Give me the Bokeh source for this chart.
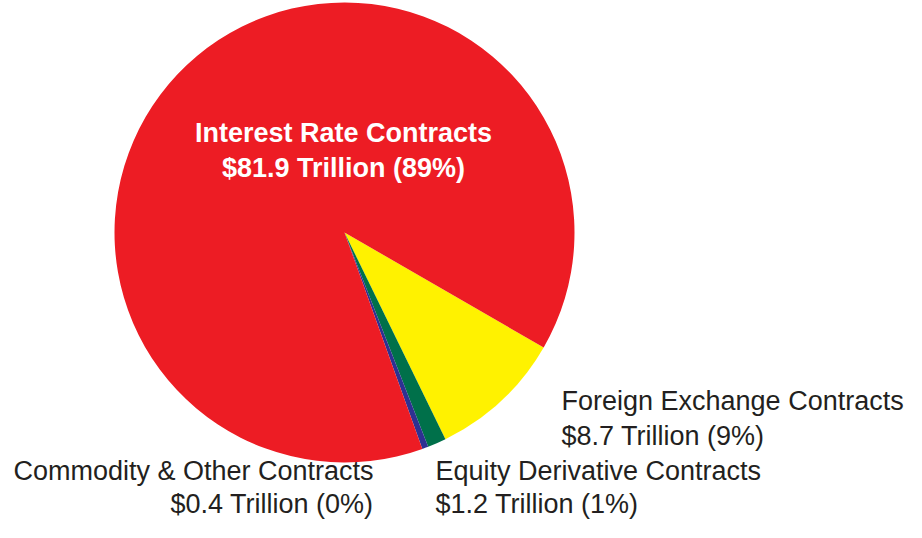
import math
from bokeh.plotting import figure
from bokeh.models import Range1d, ColumnDataSource
from bokeh.core.properties import value
from bokeh.embed import file_html
from bokeh.resources import INLINE

# ---- data ----
categories = ["Foreign Exchange Contracts", "Equity Derivative Contracts",
              "Commodity & Other Contracts", "Interest Rate Contracts"]
trillions = [8.7, 1.2, 0.4, 81.9]
colors = ["#FFF200", "#00704A", "#2E3192", "#ED1C24"]

total = sum(trillions)
pcts = [round(v / total * 100) for v in trillions]

# ---- layout ----
W, H = 906, 522
p = figure(width=W, height=H, output_backend="svg", toolbar_location=None,
           x_range=Range1d(0, W), y_range=Range1d(0, H),
           x_axis_type=None, y_axis_type=None,
           min_border=0, outline_line_color=None)
p.grid.visible = False
p.background_fill_color = "white"
p.border_fill_color = "white"

def Y(py):
    return H - py

cx, cy, r = 344, Y(232), 230
a0 = math.radians(-30)

starts, ends = [], []
cum = 0.0
for v in trillions:
    e = a0 - cum / total * 2 * math.pi
    cum += v
    s = a0 - cum / total * 2 * math.pi
    starts.append(s)
    ends.append(e)

src = ColumnDataSource(dict(start=starts, end=ends, color=colors,
                            x=[cx] * len(trillions), y=[cy] * len(trillions)))
p.wedge(x="x", y="y", radius=r, start_angle="start", end_angle="end",
        fill_color="color", line_color=None, source=src)

# label placements: (x, baseline y of first line, line gap, align, color, bold)
place = {
    "Foreign Exchange Contracts": (561, 410, 35, "left", "#231F20", False),
    "Equity Derivative Contracts": (435, 480, 33, "left", "#231F20", False),
    "Commodity & Other Contracts": (373, 480, 33, "right", "#231F20", False),
    "Interest Rate Contracts": (343, 142, 35, "center", "white", True),
}
BASE_FIX = 10  # rendered alphabetic baseline sits this much lower
for name, v, pc in zip(categories, trillions, pcts):
    x, by, gap, align, col, bold = place[name]
    lines = [name, f"${v} Trillion ({pc}%)"]
    for i, t in enumerate(lines):
        p.text(x=[x], y=[Y(by + i * gap - BASE_FIX)], text=[t], text_align=align,
               text_baseline="alphabetic", text_color=col,
               text_font=value("Liberation Sans"),
               text_font_size="27px",
               text_font_style="bold" if bold else "normal")

open("out.html", "w").write(file_html(p, INLINE))
